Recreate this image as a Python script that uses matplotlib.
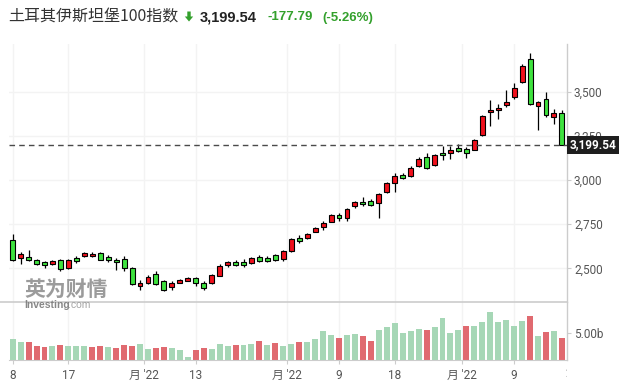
import matplotlib
matplotlib.use('Agg')
import matplotlib.pyplot as plt
from matplotlib.lines import Line2D
from matplotlib.patches import Polygon
from matplotlib.transforms import Bbox, TransformedBbox, blended_transform_factory
import numpy as np

# ---------------- data ----------------
opens = [2662, 2557, 2564, 2547, 2538, 2525, 2547, 2502, 2559, 2568,
         2568, 2585, 2564, 2547, 2553, 2502, 2402, 2419, 2468, 2429,
         2396, 2419, 2430, 2446, 2416, 2416, 2459, 2521, 2534, 2534,
         2529, 2564, 2559, 2576, 2555, 2600, 2674, 2672, 2708, 2734,
         2764, 2800, 2787, 2855, 2877, 2883, 2868, 2934, 2985, 3030,
         3024, 3079, 3132, 3083, 3153, 3151, 3181, 3174, 3171, 3253,
         3383, 3393, 3426, 3468, 3553, 3683, 3420, 3456, 3355, 3377]
highs = [2696, 2590, 2602, 2553, 2542, 2549, 2553, 2551, 2568, 2591,
         2591, 2594, 2574, 2559, 2568, 2506, 2436, 2464, 2483, 2433,
         2427, 2440, 2450, 2451, 2427, 2468, 2523, 2542, 2546, 2551,
         2564, 2574, 2568, 2581, 2604, 2670, 2689, 2698, 2734, 2770,
         2806, 2812, 2840, 2881, 2902, 2891, 2925, 2989, 3038, 3041,
         3079, 3132, 3151, 3145, 3192, 3192, 3202, 3188, 3230, 3365,
         3452, 3430, 3509, 3547, 3654, 3717, 3447, 3496, 3400, 3396]
lows = [2540, 2525, 2544, 2517, 2502, 2517, 2484, 2495, 2532, 2564,
        2563, 2546, 2534, 2492, 2487, 2408, 2380, 2412, 2408, 2370,
        2378, 2416, 2427, 2399, 2380, 2410, 2455, 2510, 2515, 2507,
        2523, 2538, 2538, 2544, 2544, 2594, 2645, 2668, 2704, 2717,
        2761, 2770, 2770, 2842, 2851, 2851, 2783, 2926, 2930, 3006,
        3015, 3072, 3060, 3079, 3113, 3117, 3160, 3126, 3168, 3250,
        3303, 3345, 3415, 3456, 3547, 3424, 3283, 3358, 3317, 3198]
closes = [2549, 2581, 2549, 2525, 2521, 2542, 2495, 2549, 2544, 2587,
          2581, 2549, 2548, 2534, 2500, 2413, 2417, 2451, 2413, 2380,
          2417, 2434, 2446, 2419, 2389, 2463, 2512, 2534, 2521, 2521,
          2559, 2544, 2544, 2549, 2598, 2665, 2657, 2693, 2729, 2757,
          2800, 2785, 2834, 2876, 2863, 2860, 2919, 2983, 3023, 3013,
          3066, 3120, 3066, 3140, 3140, 3170, 3166, 3151, 3224, 3360,
          3395, 3406, 3441, 3519, 3646, 3428, 3443, 3366, 3377.33, 3199.54]
volumes = [3.94, 3.33, 3.33, 2.59, 2.40, 2.59, 2.77, 2.59, 2.59, 2.59,
           2.40, 2.59, 2.40, 2.22, 2.77, 2.59, 2.96, 2.03, 2.22, 2.40,
           2.22, 1.85, 0.55, 1.85, 2.22, 2.03, 2.96, 2.59, 2.77, 2.77,
           2.96, 3.51, 2.77, 3.14, 2.59, 2.96, 3.48, 3.33, 3.88, 5.36,
           4.62, 4.13, 4.62, 4.81, 4.44, 3.51, 5.55, 6.11, 6.85, 4.99,
           5.36, 5.74, 5.55, 6.11, 7.77, 4.99, 5.55, 6.29, 6.29, 7.03,
           8.88, 7.03, 7.40, 6.29, 7.22, 8.14, 4.44, 5.18, 5.36, 4.07]
vol_red = [0, 0, 1, 1, 1, 0, 1, 0, 0, 0,
           1, 1, 0, 1, 1, 1, 0, 0, 1, 1,
           0, 0, 0, 1, 1, 0, 0, 0, 1, 0,
           0, 1, 0, 1, 0, 0, 1, 0, 0, 0,
           0, 1, 0, 0, 1, 1, 0, 0, 0, 0,
           0, 0, 1, 0, 0, 0, 0, 1, 0, 0,
           0, 0, 0, 0, 0, 1, 0, 1, 0, 1]
xtick_pos = [0, 7, 16.5, 23, 34.5, 41, 48, 56.5, 63]
xtick_labels = ['8', '17', "月 '22", '13', "月 '22", '9', '18', "月 '22", '9']
clipped_tick_pos = 69.8
clipped_tick_label = '2'
price_ticks = [2500, 2750, 3000, 3250, 3500]
vol_ticks = [5.0]
title_name = '土耳其伊斯坦堡100指数'
last_price = 3199.54
change = -177.79
change_pct = -5.26

# ---------------- styling ----------------
UP = '#f0101c'
DOWN = '#3ee23e'
VUP = '#e06a70'
VDOWN = '#a6d7b6'
GRID = '#f3f3f3'
AXC = '#cccccc'
TXT = '#555555'
FONT = ['Roboto', 'Noto Sans CJK SC', 'DejaVu Sans']

W, H = 625, 386
fig = plt.figure(figsize=(6.25, 3.86), dpi=100)
def fx(p): return p / W
def fy(p): return 1 - p / H

L, R = 9, 567
TOP, SEP, BOT = 44, 302, 360.3
ax = fig.add_axes([fx(L), fy(SEP), fx(R) - fx(L), fy(TOP) - fy(SEP)])
axv = fig.add_axes([fx(L), fy(BOT), fx(R) - fx(L), fy(SEP) - fy(BOT)], sharex=ax)

n = len(opens)
x = np.arange(n)
o = np.array(opens, float); c = np.array(closes, float)
h = np.array(highs, float); l = np.array(lows, float)
up = c >= o
ccol = [UP if u else DOWN for u in up]

ax.vlines(x, l, h, color='black', lw=0.9, zorder=2)
body_h = np.maximum(np.abs(c - o), 4)
body_b = np.minimum(o, c)
ax.bar(x, body_h, bottom=body_b, width=0.62, color=ccol,
       edgecolor='black', linewidth=0.8, zorder=3)

vcol = [VUP if v else VDOWN for v in vol_red]
axv.bar(x, volumes, width=0.75, color=vcol, zorder=2)

ax.set_xlim(-0.46, 69.64)
ax.set_ylim(2310, 3769)
axv.set_ylim(0, 10.8)

for a in (ax, axv):
    for s in ('top', 'left', 'bottom'):
        a.spines[s].set_visible(False)
    a.spines['right'].set_color(AXC)
    a.spines['right'].set_linewidth(1)
    a.set_axisbelow(True)
    a.yaxis.tick_right()
    a.set_xticks(xtick_pos)
    a.grid(axis='x', color=GRID, lw=1)
axv.spines['bottom'].set_visible(True)
axv.spines['bottom'].set_color(AXC)
ax.grid(axis='y', color=GRID, lw=1)

ax.set_yticks(price_ticks)
ax.set_yticklabels([f'{t:,}' for t in price_ticks], family=FONT)
ax.tick_params(axis='y', length=3, color=AXC, labelcolor=TXT, labelsize=8.5, pad=2)
ax.tick_params(axis='x', bottom=False, labelbottom=False)

axv.set_yticks(vol_ticks)
axv.set_yticklabels([f'{t:.2f}b' for t in vol_ticks], family=FONT)
axv.tick_params(axis='y', length=3, color=AXC, labelcolor=TXT, labelsize=8.5, pad=2)
axv.set_xticklabels(xtick_labels, family=FONT)
axv.tick_params(axis='x', length=3, color=AXC, labelcolor=TXT, labelsize=8.5, pad=3)

# clipped last date label (cut by the right edge of the plot, as in the source)
tr = blended_transform_factory(axv.transData, axv.transAxes)
t = axv.text(clipped_tick_pos, -0.11, clipped_tick_label, transform=tr, ha='center', va='top',
             fontsize=8.5, color=TXT, family=FONT)
t.set_clip_box(TransformedBbox(Bbox([[0, 0], [R / W, 1]]), fig.transFigure))
t.set_clip_on(True)

# last price dashed line
ax.axhline(last_price, xmin=0, xmax=1, color='#4a4a4a', lw=1,
           linestyle=(0, (4, 3)), zorder=4)
trp = blended_transform_factory(ax.transAxes, ax.transData)
ax.text(1 + 2.6 / (R - L), last_price, f'{last_price:,.2f}', transform=trp,
        ha='left', va='center', fontsize=8.5, fontweight='bold', color='white',
        family=FONT, zorder=10, clip_on=False,
        bbox=dict(boxstyle='square,pad=0.22', fc='#1e1e1e', ec='none'))

# separator between panes
fig.add_artist(Line2D([0, fx(R)], [fy(SEP), fy(SEP)], transform=fig.transFigure,
                      color=AXC, lw=1.2))

# watermark
fig.text(fx(24), fy(289), '英为财情', fontsize=15, fontweight='bold', color='#8a8a8a',
         family=['Noto Sans CJK SC'], ha='left', va='center', alpha=0.85)
fig.text(fx(24), fy(305.5), 'Investing', fontsize=7.5, fontweight='bold', color='#7a7a7a',
         family=['Liberation Sans'], ha='left', va='center', alpha=0.9)
fig.text(fx(68), fy(305.5), '.com', fontsize=7.5, color='#9a9a9a',
         family=['Liberation Sans'], ha='left', va='center', alpha=0.9)

# title
GREEN_T = '#33a02c'
fig.text(fx(8), fy(17), title_name, fontsize=11.5, color='#333333',
         family=['Noto Sans CJK SC', 'DejaVu Sans'], ha='left', va='center')
arrow_px = [(187.3, 11.5), (190.7, 11.5), (190.7, 16.5), (193.2, 16.5),
            (189, 21.5), (184.8, 16.5), (187.3, 16.5)]
fig.add_artist(Polygon([(fx(a), fy(b)) for a, b in arrow_px], closed=True,
                       transform=fig.transFigure, fc=GREEN_T, ec='none'))
fig.text(fx(200), fy(17.5), f'{last_price:,.2f}', fontsize=10.5, fontweight='bold',
         color='#222222', family=['Liberation Sans'], ha='left', va='center')
fig.text(fx(268), fy(17.5), f'{change:.2f}', fontsize=9.5, fontweight='bold',
         color=GREEN_T, family=['Liberation Sans'], ha='left', va='center')
fig.text(fx(322), fy(17.5), f'({change_pct:.2f}%)', fontsize=9.5, fontweight='bold',
         color=GREEN_T, family=['Liberation Sans'], ha='left', va='center')

fig.savefig('out.png', dpi=100)
